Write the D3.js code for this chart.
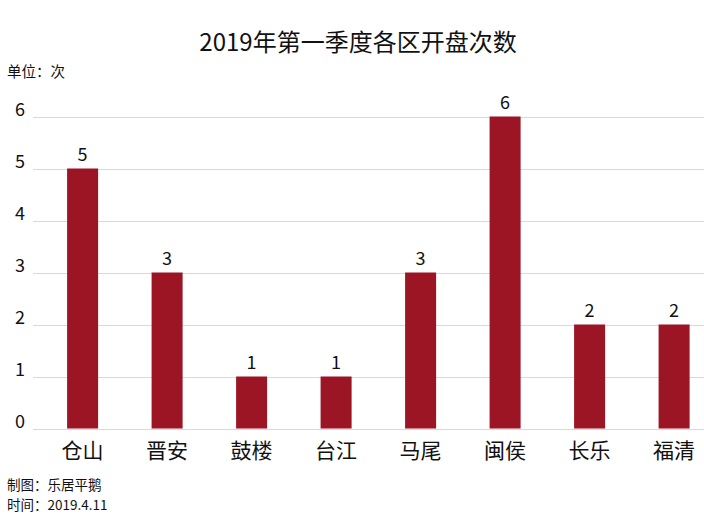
<!DOCTYPE html>
<html>
<head>
<meta charset="utf-8">
<script src="https://cdn.jsdelivr.net/npm/d3@7"></script>
<style>
  html, body { margin: 0; padding: 0; background: #ffffff; }
  svg { display: block; }
  text { font-family: "Noto Sans CJK SC", "Noto Sans", sans-serif; fill: #111; }
</style>
</head>
<body>
<svg id="chart" width="704" height="516"></svg>
<script>
const categories = ["仓山", "晋安", "鼓楼", "台江", "马尾", "闽侯", "长乐", "福清"];
const values = [5, 3, 1, 1, 3, 6, 2, 2];
const yTicks = [0, 1, 2, 3, 4, 5, 6];
const titleText = "2019年第一季度各区开盘次数";
const unitText = "单位：次";
const footerLines = ["制图：乐居平鹅", "时间：2019.4.11"];

const W = 704, H = 516;
const svg = d3.select("#chart");
svg.append("rect").attr("width", W).attr("height", H).attr("fill", "#ffffff");

const x = d3.scaleBand()
  .domain(categories)
  .range([40.35, 716.35])
  .paddingInner(0.633)
  .paddingOuter(0.3165);

const y = d3.scaleLinear().domain([0, 6]).range([428.5, 116.5]);

// gridlines
svg.append("g").selectAll("line")
  .data(yTicks)
  .join("line")
  .attr("x1", 33).attr("x2", W)
  .attr("y1", d => Math.round(y(d)) + 0.5)
  .attr("y2", d => Math.round(y(d)) + 0.5)
  .attr("stroke", "#d9d9d9")
  .attr("stroke-width", 1);

// y tick labels
svg.append("g").selectAll("text")
  .data(yTicks)
  .join("text")
  .attr("x", 20)
  .attr("y", d => y(d) - 1)
  .attr("text-anchor", "middle")
  .attr("font-size", 18)
  .text(d => d);

// bars
svg.append("g").selectAll("rect")
  .data(values)
  .join("rect")
  .attr("x", (d, i) => x(categories[i]))
  .attr("width", x.bandwidth())
  .attr("y", d => y(d))
  .attr("height", d => y(0) - y(d))
  .attr("fill", "#9b1524");

// value labels
svg.append("g").selectAll("text")
  .data(values)
  .join("text")
  .attr("x", (d, i) => x(categories[i]) + x.bandwidth() / 2)
  .attr("y", d => y(d) - 8)
  .attr("text-anchor", "middle")
  .attr("font-size", 18)
  .text(d => d);

// x labels
svg.append("g").selectAll("text")
  .data(categories)
  .join("text")
  .attr("x", d => x(d) + x.bandwidth() / 2)
  .attr("y", 458)
  .attr("text-anchor", "middle")
  .attr("font-size", 21)
  .text(d => d);

// title
svg.append("text")
  .attr("x", 358)
  .attr("y", 51)
  .attr("text-anchor", "middle")
  .attr("font-size", 24)
  .text(titleText);

// unit
svg.append("text")
  .attr("x", 7)
  .attr("y", 77)
  .attr("font-size", 14.5)
  .text(unitText);

// footer
svg.append("g").selectAll("text")
  .data(footerLines)
  .join("text")
  .attr("x", 7)
  .attr("y", (d, i) => 490 + i * 20)
  .attr("font-size", 13.5)
  .text(d => d);
</script>
</body>
</html>
